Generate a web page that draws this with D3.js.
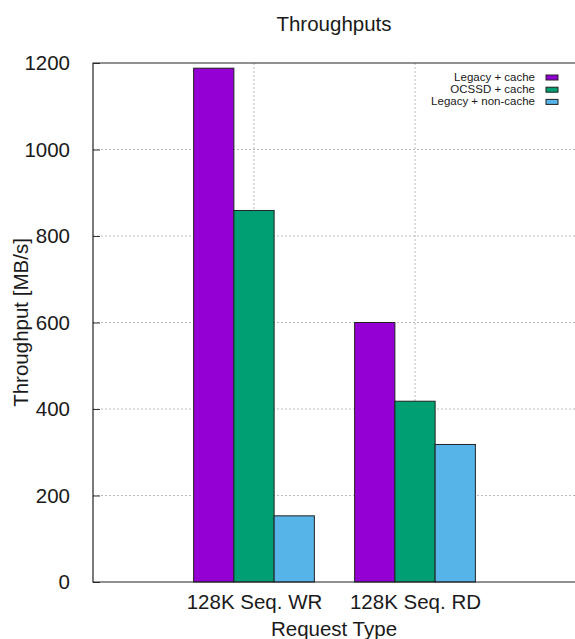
<!DOCTYPE html>
<html>
<head>
<meta charset="utf-8">
<script src="https://cdn.jsdelivr.net/npm/d3@7"></script>
<style>
  body { margin: 0; background: #fff; }
  text { font-family: "Liberation Sans", Arial, sans-serif; fill: #1a1a1a; }
</style>
</head>
<body>
<svg width="575" height="639"></svg>
<script>
const categories = ['128K Seq. WR', '128K Seq. RD'];
const series = ['Legacy + cache', 'OCSSD + cache', 'Legacy + non-cache'];
const colors = ['#9400d3', '#009e73', '#56b4e9'];
const legacyCache = [1188, 600];
const ocssdCache = [859, 418];
const legacyNonCache = [153, 318];
const yTicks = [0, 200, 400, 600, 800, 1000, 1200];

const values = [legacyCache, ocssdCache, legacyNonCache];

const svg = d3.select('svg');
const marg = { cima: 63, esquerda: 93, baixo: 57 };
const largura = 576 - marg.esquerda;   // right border sits just off the picture
const altura = +svg.attr('height') - marg.cima - marg.baixo;
const fs = 20.5;

const g = svg.append('g')
    .attr('transform', `translate(${marg.esquerda},${marg.cima})`);

// category i sits at x = i on a [-1, 2] range, like gnuplot histograms
const xEscala = d3.scaleLinear().domain([-1, 2]).range([0, largura]);
const yEscala = d3.scaleLinear().domain([0, 1200]).range([altura, 0]);
const barW = xEscala(0.25) - xEscala(0);

// grid
g.selectAll('.gy').data(yTicks.slice(1, -1))
  .enter().append('line')
    .attr('x1', 0).attr('x2', largura)
    .attr('y1', d => yEscala(d)).attr('y2', d => yEscala(d))
    .attr('stroke', '#bbb').attr('stroke-dasharray', '2,2');

g.selectAll('.gx').data(categories)
  .enter().append('line')
    .attr('x1', (d, i) => xEscala(i)).attr('x2', (d, i) => xEscala(i))
    .attr('y1', 0).attr('y2', altura)
    .attr('stroke', '#bbb').attr('stroke-dasharray', '2,2');

// bars
values.forEach((serie, s) => {
  g.selectAll('.bar' + s).data(serie)
    .enter().append('rect')
      .attr('x', (d, i) => xEscala(i + (s - 1.5) * 0.25))
      .attr('y', d => yEscala(d))
      .attr('width', barW)
      .attr('height', d => altura - yEscala(d))
      .attr('fill', colors[s])
      .attr('stroke', '#222')
      .attr('stroke-width', 1);
});

// y axis ticks + labels
const yAxis = d3.axisLeft(yEscala).tickValues(yTicks).tickFormat(d3.format('d'))
    .tickSize(-7).tickPadding(23);
const yAxisG = g.append('g').call(yAxis);
yAxisG.select('.domain').remove();
yAxisG.selectAll('.tick line').attr('stroke', '#333');
yAxisG.selectAll('text')
    .attr('font-size', fs).attr('fill', '#1a1a1a')
    .attr('font-family', '"Liberation Sans", Arial, sans-serif');

// x axis labels
const xAxis = d3.axisBottom(xEscala).tickValues([0, 1])
    .tickFormat(i => categories[i]).tickSize(0).tickPadding(12);
const xAxisG = g.append('g').attr('transform', `translate(0,${altura})`).call(xAxis);
xAxisG.select('.domain').remove();
xAxisG.selectAll('text')
    .attr('font-size', fs).attr('fill', '#1a1a1a')
    .attr('font-family', '"Liberation Sans", Arial, sans-serif');

// border
g.append('path')
    .attr('d', `M${largura},0H0V${altura}H${largura}`)
    .attr('fill', 'none').attr('stroke', '#222').attr('stroke-width', 1.2);

// titles
svg.append('text').attr('x', 334).attr('y', 31)
    .attr('text-anchor', 'middle').attr('font-size', fs).text('Throughputs');
svg.append('text').attr('x', 334).attr('y', 636)
    .attr('text-anchor', 'middle').attr('font-size', fs).text('Request Type');
svg.append('text')
    .attr('transform', `translate(28,${marg.cima + altura / 2}) rotate(-90)`)
    .attr('text-anchor', 'middle').attr('font-size', fs).text('Throughput [MB/s]');

// legend
const leg = svg.append('g');
series.forEach((nome, s) => {
  const y = 81 + s * 12.2;
  leg.append('text').attr('x', 535).attr('y', y)
      .attr('text-anchor', 'end').attr('font-size', 11.5).text(nome);
  leg.append('rect').attr('x', 546).attr('y', y - 6).attr('width', 12).attr('height', 5)
      .attr('fill', colors[s]).attr('stroke', '#222').attr('stroke-width', 1);
});
</script>
</body>
</html>
